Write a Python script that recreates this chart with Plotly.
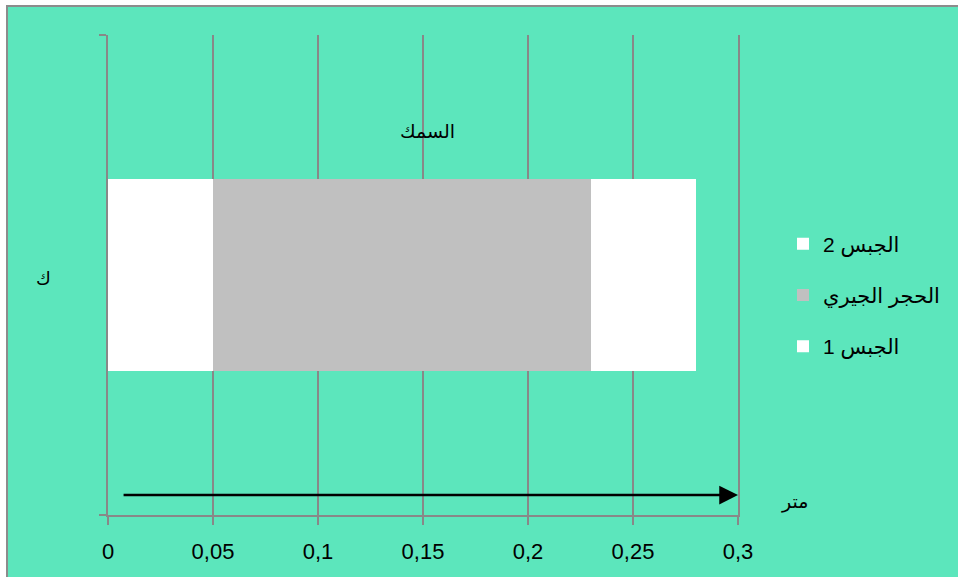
import plotly.graph_objects as go

# Layer thicknesses along the section (metres), drawn left to right
layers = ["الجبس 1", "الحجر الجيري", "الجبس 2"]
thickness = [0.05, 0.18, 0.05]
colors = ["#FFFFFF", "#C0C0C0", "#FFFFFF"]
legend_rank = [3, 2, 1]

x_ticks = [0, 0.05, 0.1, 0.15, 0.2, 0.25, 0.3]
x_tick_text = ["0", "0,05", "0,1", "0,15", "0,2", "0,25", "0,3"]

title_text = "السمك"
y_title = "ك"
unit_text = "متر"

BG = "#5CE6BC"
GRID = "#888888"
FONT = "Arial, Liberation Sans, DejaVu Sans, sans-serif"

fig = go.Figure()
for name, w, c, r in zip(layers, thickness, colors, legend_rank):
    fig.add_trace(go.Bar(
        x=[w], y=[0], name=name, orientation="h", width=0.8,
        marker=dict(color=c, line=dict(width=0)),
        legendgroup=name, legendrank=r, hoverinfo="x+name",
    ))

W, H = 958, 577
ml, mr, mt, mb = 108, 220, 35, 62
pw, ph = W - ml - mr, H - mt - mb

def px_to_paper_x(px):
    return (px - ml) / pw

def px_to_paper_y(py):
    return (H - mb - py) / ph

# chart area frame
fig.add_shape(type="rect", xref="paper", yref="paper", layer="below",
              x0=px_to_paper_x(7), x1=px_to_paper_x(W + 10),
              y0=px_to_paper_y(H + 10), y1=px_to_paper_y(6),
              fillcolor=BG, line=dict(color="#8C8C8C", width=2))

# thickness direction arrow
fig.add_annotation(x=0.3, y=-0.917, ax=0.0067, ay=-0.917,
                   xref="x", yref="y", axref="x", ayref="y",
                   text="", showarrow=True, arrowhead=2, arrowsize=1.5,
                   arrowwidth=2.5, arrowcolor="black", standoff=0, startstandoff=0)

fig.add_annotation(x=px_to_paper_x(427), y=px_to_paper_y(119), xref="paper", yref="paper",
                   text=title_text, showarrow=False, font=dict(size=19, color="black", family=FONT))
fig.add_annotation(x=px_to_paper_x(34), y=px_to_paper_y(279), xref="paper", yref="paper",
                   text=y_title, showarrow=False, font=dict(size=18, color="black", family=FONT))
fig.add_annotation(x=px_to_paper_x(810), y=px_to_paper_y(515), xref="paper", yref="paper",
                   text=unit_text, showarrow=False, font=dict(size=19, color="black", family=FONT))

fig.update_layout(
    width=W, height=H,
    margin=dict(l=ml, r=mr, t=mt, b=mb, pad=0),
    paper_bgcolor="white", plot_bgcolor="rgba(0,0,0,0)",
    barmode="stack", bargap=0,
    font=dict(family=FONT, color="black"),
    showlegend=True,
    legend=dict(traceorder="grouped", x=px_to_paper_x(783), xanchor="left",
                y=px_to_paper_y(295), yanchor="middle", tracegroupgap=21,
                bgcolor="rgba(0,0,0,0)", font=dict(size=21, family=FONT)),
    xaxis=dict(range=[0, 0.3], tickvals=x_ticks, ticktext=x_tick_text,
               showgrid=True, gridcolor=GRID, gridwidth=1.5,
               showline=True, linecolor=GRID, linewidth=1.5,
               ticks="outside", ticklen=8, tickcolor=GRID, tickwidth=1.5,
               ticklabelstandoff=8,
               tickfont=dict(size=22, family=FONT), zeroline=False, fixedrange=True),
    yaxis=dict(range=[-1, 1], tickvals=[-1, 1], showticklabels=False,
               showgrid=False, showline=True, linecolor=GRID, linewidth=1.5, mirror=True,
               ticks="outside", ticklen=7, tickcolor=GRID, tickwidth=1.5,
               zeroline=False, fixedrange=True),
)

fig.write_html("out.html")
